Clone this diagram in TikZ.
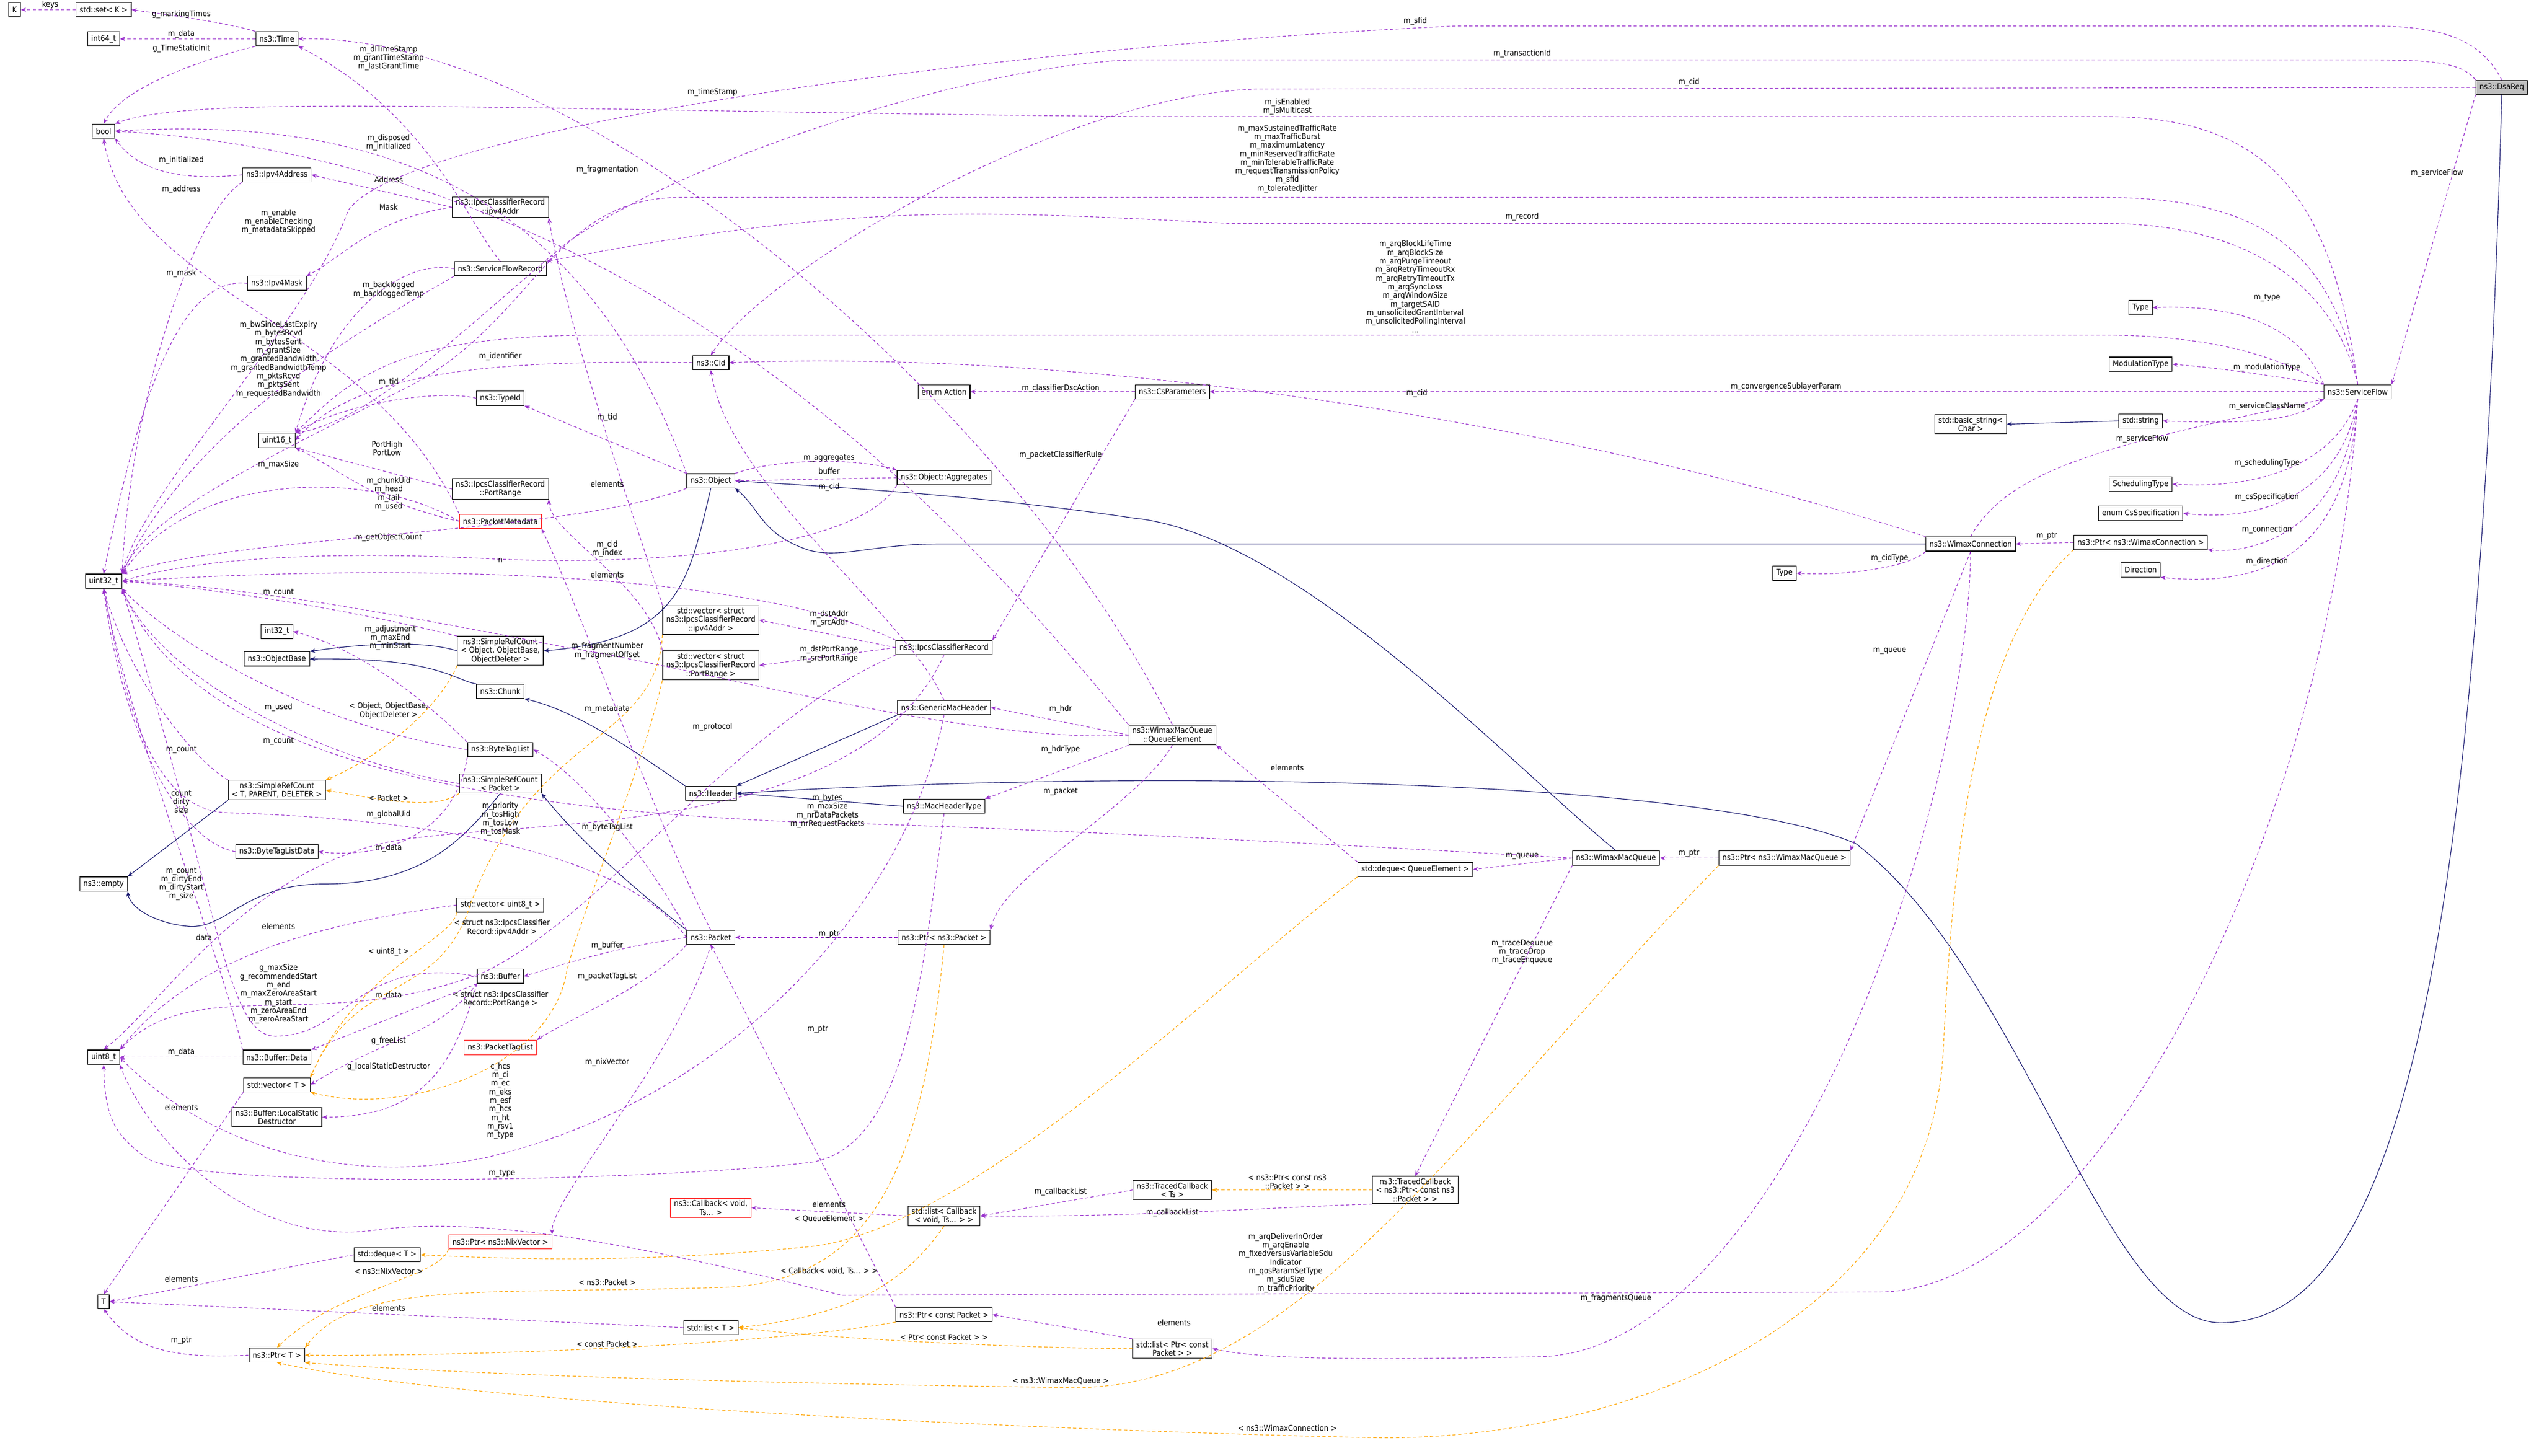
\documentclass[tikz,border=0pt]{standalone}
\usepackage{fontspec}
\setmainfont{DejaVu Sans Condensed}
\usetikzlibrary{arrows.meta}
\definecolor{pu}{HTML}{9A32CD}
\definecolor{orng}{HTML}{FFA500}
\definecolor{nv}{HTML}{191970}
\begin{document}
\begin{tikzpicture}[x=1pt,y=-1pt,
  every node/.style={font=\fontsize{4.9}{5.3}\selectfont},
  cls/.style={draw=black,line width=0.4pt,fill=white,align=center,inner xsep=2.2pt,inner ysep=1.3pt,minimum height=8.8pt},
  redc/.style={cls,draw=red},
  lb/.style={align=center,inner sep=0pt},
  pe/.style={draw=pu,dashed,dash pattern=on 2pt off 1.5pt,line width=0.4pt,-{Stealth[length=3.2pt,width=2.6pt]}},
  oe/.style={draw=orng,dashed,dash pattern=on 2pt off 1.5pt,line width=0.4pt,-{Stealth[length=3.2pt,width=2.6pt]}},
  ih/.style={draw=nv,line width=0.4pt,-{Stealth[length=3.2pt,width=2.6pt]}}]
\useasboundingbox (0,0) rectangle (1568,899);
% ---- nodes
\node[cls] (K) at (9,6) {K};
\node[cls] (set) at (64,6) {std::set< K >};
\node[cls] (i64) at (64,24) {int64\_t};
\node[cls] (time) at (171,24) {ns3::Time};
\node[cls] (bool) at (64,81) {bool};
\node[cls] (ipa) at (171,108) {ns3::Ipv4Address};
\node[cls] (ipv4addr) at (309,128) {ns3::IpcsClassifierRecord\\::ipv4Addr};
\node[cls] (sfr) at (309,166) {ns3::ServiceFlowRecord};
\node[cls] (ipm) at (171,175) {ns3::Ipv4Mask};
\node[cls] (cid) at (439,224) {ns3::Cid};
\node[cls] (tid) at (309,246) {ns3::TypeId};
\node[cls] (u16) at (171,272) {uint16\_t};
\node[cls] (pr) at (309,302) {ns3::IpcsClassifierRecord\\::PortRange};
\node[cls] (obj) at (439,297) {ns3::Object};
\node[redc] (pm) at (309,322) {ns3::PacketMetadata};
\node[cls] (u32) at (64,359) {uint32\_t};
\node[cls] (i32) at (171,390) {int32\_t};
\node[cls] (ob) at (171,407) {ns3::ObjectBase};
\node[cls] (src1) at (309,402) {ns3::SimpleRefCount\\< Object, ObjectBase,\\ObjectDeleter >};
\node[cls] (vip) at (439,383) {std::vector< struct\\ns3::IpcsClassifierRecord\\::ipv4Addr >};
\node[cls] (vpr) at (439,411) {std::vector< struct\\ns3::IpcsClassifierRecord\\::PortRange >};
\node[cls] (chunk) at (309,427) {ns3::Chunk};
\node[cls] (btl) at (309,463) {ns3::ByteTagList};
\node[cls] (srct) at (171,488) {ns3::SimpleRefCount\\< T, PARENT, DELETER >};
\node[cls] (srcp) at (309,484) {ns3::SimpleRefCount\\< Packet >};
\node[cls] (hdr) at (439,490) {ns3::Header};
\node[cls] (btld) at (171,526) {ns3::ByteTagListData};
\node[cls] (empty) at (64,546) {ns3::empty};
\node[cls] (vu8) at (309,559) {std::vector< uint8\_t >};
\node[cls] (pkt) at (439,579) {ns3::Packet};
\node[cls] (buf) at (309,603) {ns3::Buffer};
\node[redc] (ptl) at (309,647) {ns3::PacketTagList};
\node[cls] (u8) at (64,653) {uint8\_t};
\node[cls] (bd) at (171,653) {ns3::Buffer::Data};
\node[cls] (vt) at (171,670) {std::vector< T >};
\node[cls] (lsd) at (171,690) {ns3::Buffer::LocalStatic\\Destructor};
\node[redc] (cb) at (439,746) {ns3::Callback< void,\\Ts... >};
\node[redc] (pnv) at (309,767) {ns3::Ptr< ns3::NixVector >};
\node[cls] (dqt) at (239,775) {std::deque< T >};
\node[cls] (T) at (64,804) {T};
\node[cls] (lt) at (439,820) {std::list< T >};
\node[cls] (pt) at (171,837) {ns3::Ptr< T >};
\node[cls] (act) at (583,242) {enum Action};
\node[cls] (cs) at (724,242) {ns3::CsParameters};
\node[cls] (agg) at (583,295) {ns3::Object::Aggregates};
\node[cls] (icr) at (583,400) {ns3::IpcsClassifierRecord};
\node[cls] (gmh) at (583,437) {ns3::GenericMacHeader};
\node[cls] (qe) at (724,454) {ns3::WimaxMacQueue\\::QueueElement};
\node[cls] (mht) at (583,498) {ns3::MacHeaderType};
\node[cls] (dqe) at (874,537) {std::deque< QueueElement >};
\node[cls] (pp) at (583,579) {ns3::Ptr< ns3::Packet >};
\node[cls] (tcts) at (724,735) {ns3::TracedCallback\\< Ts >};
\node[cls] (tcp) at (874,735) {ns3::TracedCallback\\< ns3::Ptr< const ns3\\::Packet > >};
\node[cls] (lcb) at (583,751) {std::list< Callback\\< void, Ts... > >};
\node[cls] (pcp) at (583,812) {ns3::Ptr< const Packet >};
\node[cls] (lpc) at (724,833) {std::list< Ptr< const\\Packet > >};
\node[cls] (wmq) at (998,530) {ns3::WimaxMacQueue};
\node[cls] (pwq) at (1102,530) {ns3::Ptr< ns3::WimaxMacQueue >};
\node[cls,fill=black!25] (dsa) at (1545,54) {ns3::DsaReq};
\node[cls] (type1) at (1322,190) {Type};
\node[cls] (modt) at (1322,225) {ModulationType};
\node[cls] (sf) at (1456,242) {ns3::ServiceFlow};
\node[cls] (str) at (1322,260) {std::string};
\node[cls] (bstr) at (1217,262) {std::basic\_string<\\Char >};
\node[cls] (scht) at (1322,299) {SchedulingType};
\node[cls] (css) at (1322,317) {enum CsSpecification};
\node[cls] (wc) at (1217,336) {ns3::WimaxConnection};
\node[cls] (pwc) at (1322,335) {ns3::Ptr< ns3::WimaxConnection >};
\node[cls] (dir) at (1322,352) {Direction};
\node[cls] (type2) at (1102,354) {Type};
% ---- inheritance
\draw[ih] (obj.south) .. controls (425,360) and (420,395) .. (src1.east);
\draw[ih] (src1.west) .. controls (260,395) and (220,398) .. (ob.north east);
\draw[ih] (chunk.north west) .. controls (280,420) and (270,406) .. (ob.east);
\draw[ih] (hdr.north west) .. controls (400,470) and (360,440) .. (chunk.south east);
\draw[ih] (gmh.south west) -- (hdr.north east);
\draw[ih] (mht.west) -- (hdr.east);
\draw[ih] (pkt.north west) .. controls (380,540) and (350,510) .. (srcp.south east);
\draw[ih] (srct.south west) -- (empty.north east);
\draw[ih] (srcp.south) .. controls (285,520) and (260,546) .. (200,546) .. controls (150,546) and (140,575) .. (115,572) .. controls (95,570) and (80,560) .. (empty.south east);
\draw[ih] (str.west) -- (bstr.east);
\draw[ih] (wmq.north) .. controls (930,470) and (800,330) .. (700,320) .. controls (600,305) and (500,300) .. (obj.east);
\draw[ih] (wc.west) -- (580,336) .. controls (540,336) and (520,345) .. (500,340) .. controls (470,330) and (470,315) .. (obj.south east);
\draw[ih] (dsa.south) .. controls (1530,600) and (1480,815) .. (1373,817) .. controls (1300,820) and (1250,600) .. (1146,521) .. controls (1050,480) and (700,475) .. (hdr.east);
% ---- orange template edges
\draw[oe] (src1.south west) .. controls (270,440) and (230,470) .. (srct.north east);
\draw[oe] (srcp.south west) .. controls (270,500) and (240,495) .. (srct.east);
\draw[oe] (vip.south west) .. controls (405,460) and (330,450) .. (290,560) .. controls (270,620) and (220,600) .. (vt.north east);
\draw[oe] (vpr.south west) .. controls (395,480) and (360,560) .. (350,600) .. controls (340,660) and (250,690) .. (vt.south east);
\draw[oe] (vu8.south west) .. controls (280,580) and (220,600) .. (vt.north east);
\draw[oe] (dqe.south west) .. controls (760,600) and (600,760) .. (500,770) .. controls (400,780) and (320,778) .. (dqt.east);
\draw[oe] (lcb.south) .. controls (560,790) and (530,812) .. (lt.east);
\draw[oe] (pp.south) .. controls (570,720) and (540,790) .. (450,795) .. controls (300,800) and (220,790) .. (pt.north east);
\draw[oe] (pcp.south west) .. controls (480,830) and (300,838) .. (pt.east);
\draw[oe] (pnv.south west) .. controls (270,790) and (210,795) .. (pt.north);
\draw[oe] (pwq.south west) .. controls (900,700) and (800,860) .. (660,857) .. controls (500,855) and (300,850) .. (pt.south east);
\draw[oe] (pwc.south west) .. controls (1215,400) and (1205,550) .. (1200,650) .. controls (1190,820) and (1000,890) .. (850,888) .. controls (700,885) and (300,870) .. (pt.south);
\draw[oe] (tcp.west) -- (tcts.east);
\draw[oe] (lpc.west) .. controls (650,833) and (520,828) .. (lt.east);
% ---- purple member edges
\draw[pe] (set.west) -- (K.east);
\draw[pe] (time.north west) .. controls (140,14) and (110,10) .. (set.east);
\draw[pe] (time.west) -- (i64.east);
\draw[pe] (time.south west) .. controls (120,38) and (75,55) .. (bool.north);
\draw[pe] (ipa.west) .. controls (110,112) and (85,105) .. (bool.south east);
\draw[pe] (ipa.south west) .. controls (120,130) and (80,250) .. (u32.north east);
\draw[pe] (ipv4addr.west) -- (ipa.east);
\draw[pe] (ipv4addr.west) .. controls (230,135) and (210,160) .. (ipm.north east);
\draw[pe] (ipm.west) .. controls (110,170) and (85,250) .. (u32.north);
\draw[pe] (obj.north west) .. controls (365,130) and (250,70) .. (bool.east);
\draw[pe] (pm.north west) .. controls (230,200) and (80,180) .. (bool.south);
\draw[pe] (sfr.north) .. controls (290,140) and (265,70) .. (time.south east);
\draw[pe] (qe.north) .. controls (620,240) and (350,20) .. (time.east);
\draw[pe] (sfr.south west) .. controls (230,200) and (120,260) .. (u32.north east);
\draw[pe] (sfr.west) .. controls (250,160) and (205,190) .. (u16.north east);
\draw[pe] (cid.west) .. controls (300,222) and (220,230) .. (u16.east);
\draw[pe] (tid.west) .. controls (270,240) and (210,250) .. (u16.north east);
\draw[pe] (obj.north west) -- (tid.south east);
\draw[pe] (pr.west) -- (u16.south east);
\draw[pe] (pm.west) .. controls (230,290) and (120,290) .. (u32.north east);
\draw[pe] (pm.west) .. controls (230,310) and (210,290) .. (u16.south east);
\draw[pe] (obj.south west) .. controls (350,330) and (150,330) .. (u32.north east);
\draw[pe] (obj.north east) .. controls (480,283) and (530,283) .. (agg.north west);
\draw[pe] (agg.west) -- (obj.east);
\draw[pe] (agg.south west) .. controls (530,340) and (400,350) .. (300,345) .. controls (200,340) and (120,345) .. (u32.east);
\draw[pe] (gmh.north) .. controls (560,380) and (450,300) .. (cid.south);
\draw[pe] (wc.north west) .. controls (1000,270) and (700,215) .. (cid.east);
\draw[pe] (dsa.west) -- (775,55) .. controls (650,60) and (470,170) .. (cid.north);
\draw[pe] (dsa.north) .. controls (1530,20) and (1500,16) .. (1460,16) -- (900,16) .. controls (600,30) and (250,80) .. (215,130) .. controls (190,200) and (90,300) .. (u32.north east);
\draw[pe] (dsa.north west) .. controls (1520,38) and (1500,37) .. (1460,37) -- (700,37) .. controls (600,40) and (420,100) .. (350,150) .. controls (290,200) and (230,260) .. (u16.north east);
\draw[pe] (sf.north) .. controls (1440,120) and (1400,72) .. (1300,72) -- (700,72) .. controls (300,68) and (120,58) .. (bool.north east);
\draw[pe] (sf.north) .. controls (1440,150) and (1390,122) .. (1300,122) -- (420,122) .. controls (340,122) and (330,200) .. (250,240) .. controls (150,290) and (90,320) .. (u32.north east);
\draw[pe] (sf.north) .. controls (1440,170) and (1380,138) .. (1300,138) -- (760,138) .. controls (600,130) and (530,125) .. (sfr.north east);
\draw[pe] (sf.north west) .. controls (1400,215) and (1350,207) .. (1300,207) -- (370,207) .. controls (250,207) and (220,230) .. (u16.north east);
\draw[pe] (sf.west) -- (cs.east);
\draw[pe] (sf.north west) .. controls (1420,200) and (1380,188) .. (type1.east);
\draw[pe] (sf.north west) .. controls (1420,235) and (1380,228) .. (modt.east);
\draw[pe] (sf.south west) .. controls (1420,260) and (1390,262) .. (str.east);
\draw[pe] (sf.south) .. controls (1440,290) and (1390,302) .. (scht.east);
\draw[pe] (sf.south) .. controls (1445,310) and (1390,322) .. (css.east);
\draw[pe] (sf.south) .. controls (1447,330) and (1390,342) .. (pwc.south east);
\draw[pe] (sf.south) .. controls (1450,350) and (1390,362) .. (dir.south east);
\draw[pe] (dsa.south west) -- (sf.north east);
\draw[pe] (wc.north) .. controls (1240,290) and (1300,275) .. (sf.south west);
\draw[pe] (pwc.west) -- (wc.east);
\draw[pe] (wc.south west) .. controls (1180,350) and (1140,356) .. (type2.east);
\draw[pe] (wc.south) -- (pwq.north east);
\draw[pe] (wc.south) .. controls (1215,500) and (1100,836) .. (950,838) .. controls (850,840) and (780,840) .. (lpc.east);
\draw[pe] (sf.south) .. controls (1440,500) and (1300,798) .. (1160,798) -- (520,800) .. controls (400,770) and (300,750) .. (230,760) .. controls (150,770) and (90,700) .. (u8.south east);
\draw[pe] (cs.west) -- (act.east);
\draw[pe] (cs.south west) -- (icr.north east);
\draw[pe] (icr.west) -- (vip.east);
\draw[pe] (icr.west) -- (vpr.east);
\draw[pe] (icr.north west) .. controls (480,360) and (300,345) .. (u32.east);
\draw[pe] (icr.south west) .. controls (450,450) and (380,560) .. (300,600) .. controls (200,640) and (120,600) .. (u8.north east);
\draw[pe] (icr.south) .. controls (530,520) and (320,505) .. (240,520) .. controls (150,540) and (100,620) .. (u8.north);
\draw[pe] (vip.north west) .. controls (385,300) and (350,200) .. (ipv4addr.south east);
\draw[pe] (vpr.north west) .. controls (400,360) and (340,330) .. (pr.south east);
\draw[pe] (pkt.north) .. controls (410,520) and (360,380) .. (pm.south east);
\draw[pe] (pkt.north west) .. controls (400,530) and (360,480) .. (btl.east);
\draw[pe] (pkt.west) .. controls (380,585) and (350,595) .. (buf.east);
\draw[pe] (pkt.south west) .. controls (400,610) and (350,630) .. (ptl.north east);
\draw[pe] (pkt.west) .. controls (380,520) and (240,505) .. (140,502) .. controls (90,500) and (75,420) .. (u32.south);
\draw[pe] (pkt.south) .. controls (420,650) and (340,740) .. (pnv.north east);
\draw[pe] (pp.west) -- (pkt.east);
\draw[pe] (pcp.north west) -- (pkt.south);
\draw[pe] (qe.west) -- (gmh.east);
\draw[pe] (qe.south west) -- (mht.north east);
\draw[pe] (qe.south) .. controls (700,500) and (620,540) .. (pp.north east);
\draw[pe] (qe.north west) .. controls (600,330) and (400,100) .. (bool.east);
\draw[pe] (qe.west) .. controls (600,460) and (420,410) .. (350,400) .. controls (250,380) and (150,362) .. (u32.east);
\draw[pe] (wmq.west) .. controls (800,520) and (600,510) .. (500,508) .. controls (300,500) and (120,470) .. (u32.south east);
\draw[pe] (btl.north west) .. controls (260,430) and (220,400) .. (i32.east);
\draw[pe] (btl.west) .. controls (200,450) and (110,400) .. (u32.south east);
\draw[pe] (srcp.west) .. controls (200,470) and (100,420) .. (u32.south east);
\draw[pe] (src1.north west) .. controls (230,380) and (150,365) .. (u32.east);
\draw[pe] (srct.north west) .. controls (120,470) and (80,420) .. (u32.south);
\draw[pe] (btld.west) .. controls (110,520) and (75,450) .. (u32.south);
\draw[pe] (btl.south west) .. controls (280,520) and (230,530) .. (btld.east);
\draw[pe] (bd.north west) .. controls (140,600) and (80,450) .. (u32.south);
\draw[pe] (buf.west) .. controls (220,590) and (215,640) .. (170,640) .. controls (140,640) and (135,560) .. (u32.south east);
\draw[pe] (buf.south west) -- (bd.north east);
\draw[pe] (buf.south west) .. controls (270,640) and (240,640) .. (vt.east);
\draw[pe] (buf.south west) .. controls (280,660) and (260,690) .. (lsd.east);
\draw[pe] (bd.west) -- (u8.east);
\draw[pe] (vu8.west) .. controls (200,570) and (120,590) .. (u8.north east);
\draw[pe] (vt.south west) -- (T.north);
\draw[pe] (dqt.west) -- (T.east);
\draw[pe] (lt.west) -- (T.east);
\draw[pe] (pt.west) .. controls (100,840) and (80,830) .. (T.south);
\draw[pe] (lcb.west) -- (cb.east);
\draw[pe] (tcts.west) -- (lcb.east);
\draw[pe] (tcp.south west) .. controls (800,745) and (700,752) .. (lcb.east);
\draw[pe] (wmq.south west) -- (tcp.north);
\draw[pe] (wmq.west) -- (dqe.east);
\draw[pe] (pwq.west) -- (wmq.east);
\draw[pe] (lpc.north west) -- (pcp.east);
\draw[pe] (mht.south) .. controls (570,600) and (560,710) .. (500,718) .. controls (400,730) and (120,735) .. (90,715) .. controls (70,700) and (65,690) .. (u8.south);
\draw[pe] (gmh.south) .. controls (560,560) and (450,680) .. (300,715) .. controls (200,735) and (120,700) .. (u8.east);
\draw[pe] (dqe.north west) -- (qe.south east);
% ---- labels
\node[lb] (l1) at (31,3) {keys};
\node[lb] (l2) at (112,9) {g\_markingTimes};
\node[lb] (l3) at (112,21) {m\_data};
\node[lb] (l4) at (112,30) {g\_TimeStaticInit};
\node[lb] (l5) at (112,99) {m\_initialized};
\node[lb] (l6) at (112,117) {m\_address};
\node[lb] (l7) at (240,111) {Address};
\node[lb] (l8) at (240,128) {Mask};
\node[lb] (l9) at (112,169) {m\_mask};
\node[lb] (l10) at (240,88) {m\_disposed\\m\_initialized};
\node[lb] (l11) at (172,137) {m\_enable\\m\_enableChecking\\m\_metadataSkipped};
\node[lb] (l12) at (240,36) {m\_dlTimeStamp\\m\_grantTimeStamp\\m\_lastGrantTime};
\node[lb] (l13) at (440,57) {m\_timeStamp};
\node[lb] (l14) at (172,222) {m\_bwSinceLastExpiry\\m\_bytesRcvd\\m\_bytesSent\\m\_grantSize\\m\_grantedBandwidth\\m\_grantedBandwidthTemp\\m\_pktsRcvd\\m\_pktsSent\\m\_requestedBandwidth};
\node[lb] (l15) at (240,179) {m\_backlogged\\m\_backloggedTemp};
\node[lb] (l16) at (309,220) {m\_identifier};
\node[lb] (l17) at (240,236) {m\_tid};
\node[lb] (l18) at (375,258) {m\_tid};
\node[lb] (l19) at (239,277) {PortHigh\\PortLow};
\node[lb] (l20) at (172,287) {m\_maxSize};
\node[lb] (l21) at (240,305) {m\_chunkUid\\m\_head\\m\_tail\\m\_used};
\node[lb] (l22) at (240,332) {m\_getObjectCount};
\node[lb] (l23) at (512,283) {m\_aggregates};
\node[lb] (l24) at (512,291) {buffer};
\node[lb] (l25) at (512,301) {m\_cid};
\node[lb] (l26) at (375,299) {elements};
\node[lb] (l27) at (375,339) {m\_cid\\m\_index};
\node[lb] (l28) at (309,346) {n};
\node[lb] (l29) at (375,355) {elements};
\node[lb] (l30) at (172,366) {m\_count};
\node[lb] (l31) at (241,394) {m\_adjustment\\m\_maxEnd\\m\_minStart};
\node[lb] (l32) at (375,402) {m\_fragmentNumber\\m\_fragmentOffset};
\node[lb] (l33) at (375,105) {m\_fragmentation};
\node[lb] (l34) at (240,439) {< Object, ObjectBase,\\ObjectDeleter >};
\node[lb] (l35) at (172,437) {m\_used};
\node[lb] (l36) at (375,438) {m\_metadata};
\node[lb] (l37) at (440,449) {m\_protocol};
\node[lb] (l38) at (172,458) {m\_count};
\node[lb] (l39) at (112,463) {m\_count};
\node[lb] (l40) at (240,493) {< Packet >};
\node[lb] (l41) at (112,495) {count\\dirty\\size};
\node[lb] (l42) at (240,503) {m\_globalUid};
\node[lb] (l43) at (309,506) {m\_priority\\m\_tosHigh\\m\_tosLow\\m\_tosMask};
\node[lb] (l44) at (375,511) {m\_byteTagList};
\node[lb] (l45) at (240,524) {m\_data};
\node[lb] (l46) at (112,546) {m\_count\\m\_dirtyEnd\\m\_dirtyStart\\m\_size};
\node[lb] (l47) at (126,579) {data};
\node[lb] (l48) at (172,572) {elements};
\node[lb] (l49) at (310,573) {< struct ns3::IpcsClassifier\\Record::ipv4Addr >};
\node[lb] (l50) at (240,588) {< uint8\_t >};
\node[lb] (l51) at (375,584) {m\_buffer};
\node[lb] (l52) at (375,603) {m\_packetTagList};
\node[lb] (l53) at (172,614) {g\_maxSize\\g\_recommendedStart\\m\_end\\m\_maxZeroAreaStart\\m\_start\\m\_zeroAreaEnd\\m\_zeroAreaStart};
\node[lb] (l54) at (240,615) {m\_data};
\node[lb] (l55) at (309,617) {< struct ns3::IpcsClassifier\\Record::PortRange >};
\node[lb] (l56) at (240,643) {g\_freeList};
\node[lb] (l57) at (112,650) {m\_data};
\node[lb] (l58) at (375,656) {m\_nixVector};
\node[lb] (l59) at (240,659) {g\_localStaticDestructor};
\node[lb] (l60) at (309,680) {c\_hcs\\m\_ci\\m\_ec\\m\_eks\\m\_esf\\m\_hcs\\m\_ht\\m\_rsv1\\m\_type};
\node[lb] (l61) at (112,684) {elements};
\node[lb] (l62) at (310,725) {m\_type};
\node[lb] (l63) at (240,785) {< ns3::NixVector >};
\node[lb] (l64) at (112,790) {elements};
\node[lb] (l65) at (375,792) {< ns3::Packet >};
\node[lb] (l66) at (240,808) {elements};
\node[lb] (l67) at (112,828) {m\_ptr};
\node[lb] (l68) at (375,830) {< const Packet >};
\node[lb] (l69) at (655,240) {m\_classifierDscAction};
\node[lb] (l70) at (875,243) {m\_cid};
\node[lb] (l71) at (655,281) {m\_packetClassifierRule};
\node[lb] (l72) at (512,382) {m\_dstAddr\\m\_srcAddr};
\node[lb] (l73) at (512,404) {m\_dstPortRange\\m\_srcPortRange};
\node[lb] (l74) at (655,438) {m\_hdr};
\node[lb] (l75) at (655,463) {m\_hdrType};
\node[lb] (l76) at (795,474) {elements};
\node[lb] (l77) at (655,489) {m\_packet};
\node[lb] (l78) at (511,501) {m\_bytes\\m\_maxSize\\m\_nrDataPackets\\m\_nrRequestPackets};
\node[lb] (l79) at (512,577) {m\_ptr};
\node[lb] (l80) at (505,636) {m\_ptr};
\node[lb] (l81) at (655,736) {m\_callbackList};
\node[lb] (l82) at (795,730) {< ns3::Ptr< const ns3\\::Packet > >};
\node[lb] (l83) at (512,744) {elements};
\node[lb] (l84) at (724,749) {m\_callbackList};
\node[lb] (l85) at (512,753) {< QueueElement >};
\node[lb] (l86) at (794,780) {m\_arqDeliverInOrder\\m\_arqEnable\\m\_fixedversusVariableSdu\\Indicator\\m\_qosParamSetType\\m\_sduSize\\m\_trafficPriority};
\node[lb] (l87) at (512,785) {< Callback< void, Ts... > >};
\node[lb] (l88) at (998,802) {m\_fragmentsQueue};
\node[lb] (l89) at (725,817) {elements};
\node[lb] (l90) at (583,826) {< Ptr< const Packet > >};
\node[lb] (l91) at (655,853) {< ns3::WimaxMacQueue >};
\node[lb] (l92) at (795,882) {< ns3::WimaxConnection >};
\node[lb] (l93) at (940,529) {m\_queue};
\node[lb] (l94) at (940,588) {m\_traceDequeue\\m\_traceDrop\\m\_traceEnqueue};
\node[lb] (l95) at (1043,527) {m\_ptr};
\node[lb] (l96) at (1167,402) {m\_queue};
\node[lb] (l97) at (1264,331) {m\_ptr};
\node[lb] (l98) at (1167,345) {m\_cidType};
\node[lb] (l99) at (1323,271) {m\_serviceFlow};
\node[lb] (l100) at (1400,184) {m\_type};
\node[lb] (l101) at (1400,227) {m\_modulationType};
\node[lb] (l102) at (1103,239) {m\_convergenceSublayerParam};
\node[lb] (l103) at (1400,251) {m\_serviceClassName};
\node[lb] (l104) at (1400,286) {m\_schedulingType};
\node[lb] (l105) at (1400,307) {m\_csSpecification};
\node[lb] (l106) at (1400,327) {m\_connection};
\node[lb] (l107) at (1400,347) {m\_direction};
\node[lb] (l108) at (1505,107) {m\_serviceFlow};
\node[lb] (l109) at (874,13) {m\_sfid};
\node[lb] (l110) at (940,33) {m\_transactionId};
\node[lb] (l111) at (1043,51) {m\_cid};
\node[lb] (l112) at (795,66) {m\_isEnabled\\m\_isMulticast};
\node[lb] (l113) at (795,98) {m\_maxSustainedTrafficRate\\m\_maxTrafficBurst\\m\_maximumLatency\\m\_minReservedTrafficRate\\m\_minTolerableTrafficRate\\m\_requestTransmissionPolicy\\m\_sfid\\m\_toleratedJitter};
\node[lb] (l114) at (940,134) {m\_record};
\node[lb] (l115) at (874,177) {m\_arqBlockLifeTime\\m\_arqBlockSize\\m\_arqPurgeTimeout\\m\_arqRetryTimeoutRx\\m\_arqRetryTimeoutTx\\m\_arqSyncLoss\\m\_arqWindowSize\\m\_targetSAID\\m\_unsolicitedGrantInterval\\m\_unsolicitedPollingInterval\\...};
\end{tikzpicture}
\end{document}
